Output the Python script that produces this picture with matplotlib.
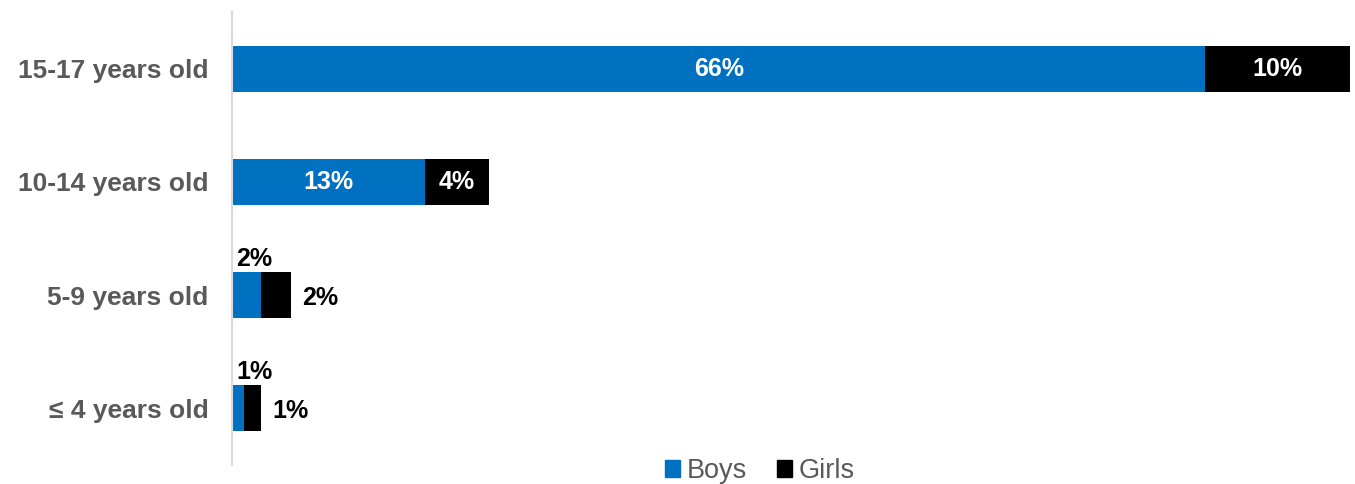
import matplotlib.pyplot as plt
from matplotlib.patches import Patch

# data (labels are the rounded percentages)
categories = ["≤ 4 years old", "5-9 years old", "10-14 years old", "15-17 years old"]
boys = [0.8, 2.0, 13.1, 66.0]
girls = [1.2, 2.0, 4.3, 9.8]
boys_labels = ["1%", "2%", "13%", "66%"]
girls_labels = ["1%", "2%", "4%", "10%"]

C_BOYS = "#0070C0"
C_GIRLS = "#000000"
C_TEXT = "#595959"

plt.rcParams["font.family"] = ["Liberation Sans", "DejaVu Sans"]

fig = plt.figure(figsize=(13.55, 4.84), dpi=100)
ax = fig.add_axes([232 / 1355, 19 / 484, 1118 / 1355, 453 / 484])

y = list(range(len(categories)))
ax.barh(y, boys, height=0.405, color=C_BOYS)
ax.barh(y, girls, left=boys, height=0.405, color=C_GIRLS)

for yi, b, g, bl, gl in zip(y, boys, girls, boys_labels, girls_labels):
    if b > 8:
        ax.text(b / 2, yi, bl, ha="center", va="center", color="white",
                fontsize=18, fontweight="bold")
        ax.text(b + g / 2, yi, gl, ha="center", va="center", color="white",
                fontsize=18, fontweight="bold")
    else:
        ax.annotate(bl, (0, yi + 0.2025), xytext=(3, 1), textcoords="offset points",
                    ha="left", va="bottom", fontsize=18, fontweight="bold", color="black")
        ax.annotate(gl, (b + g, yi), xytext=(8, -2), textcoords="offset points",
                    ha="left", va="center", fontsize=18, fontweight="bold", color="black")

ax.set_xlim(0, 75.8)
ax.set_ylim(-0.5, 3.5)
ax.set_yticks(y)
ax.set_yticklabels(categories, fontsize=19, fontweight="bold", color=C_TEXT)
ax.tick_params(axis="y", length=0, pad=17)
ax.set_xticks([])
for s in ["top", "right", "bottom"]:
    ax.spines[s].set_visible(False)
ax.spines["left"].set_color("#d9d9d9")
ax.spines["left"].set_linewidth(1.5)

fig.legend(handles=[Patch(color=C_BOYS, label="Boys"), Patch(color=C_GIRLS, label="Girls")],
           loc="center", bbox_to_anchor=(760 / 1355, 13 / 484), ncol=2, frameon=False,
           fontsize=19.5, labelcolor=C_TEXT, handlelength=0.55, handleheight=0.55,
           handletextpad=0.25, columnspacing=1.1, borderaxespad=0, borderpad=0)

fig.savefig("out.png", dpi=100)
